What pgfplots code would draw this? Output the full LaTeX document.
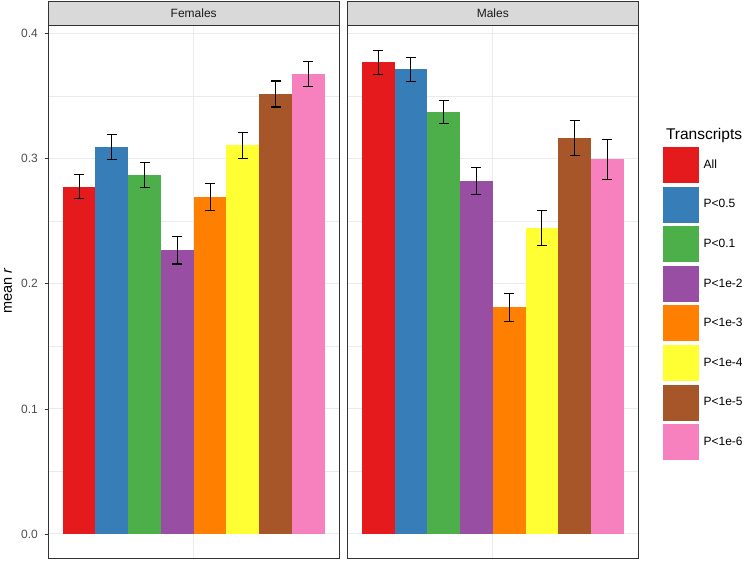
\documentclass[border=0pt]{standalone}
\usepackage{pgfplots}
\pgfplotsset{compat=1.18}
\usepackage{fontspec}
\setmainfont{Liberation Sans}
\definecolor{cA}{HTML}{E41A1C}
\definecolor{cB}{HTML}{377EB8}
\definecolor{cC}{HTML}{4DAF4A}
\definecolor{cD}{HTML}{984EA3}
\definecolor{cE}{HTML}{FF7F00}
\definecolor{cF}{HTML}{FFFF33}
\definecolor{cG}{HTML}{A65628}
\definecolor{cH}{HTML}{F781BF}
\definecolor{grid92}{HTML}{EBEBEB}
\definecolor{g20}{HTML}{333333}
\definecolor{g30}{HTML}{4D4D4D}
\definecolor{g85}{HTML}{D9D9D9}
\definecolor{g10}{HTML}{1A1A1A}
\pgfplotsset{
  panel/.style={
    scale only axis, width=291pt, height=532.3pt,
    xmin=0.0573, xmax=8.9427,
    ymin=-0.019185, ymax=0.40631,
    clip=false,
    axis line style={g20, line width=0.6pt},
    xtick={4.5}, xticklabels={}, major x tick style={draw=none},
    xmajorgrids, ymajorgrids, yminorgrids,
    ytick={0,0.1,0.2,0.3,0.4},
    minor ytick={0.05,0.15,0.25,0.35},
    major grid style={grid92, line width=1pt},
    minor grid style={grid92, line width=0.5pt},
    tick align=outside, ytick pos=left, xtick pos=bottom,
    major tick length=3.7pt, minor tick length=0pt,
    major y tick style={g20, line width=0.6pt},
    yticklabel style={font=\fontsize{12}{14}\selectfont, text=g30, inner sep=0pt, xshift=-6.5pt},
    /pgf/number format/.cd, fixed, fixed zerofill, precision=1, assume math mode=true, /pgfplots/.cd,
    error bars/y dir=both, error bars/y explicit,
    error bars/error bar style={black, line width=1.1pt},
    error bars/error mark options={rotate=90, black, mark size=5pt, line width=1.1pt},
  },
  bar/.style={ybar, bar width=1, bar shift=0pt, draw=none, fill=#1,
    legend image code/.code={\path[##1, draw=white, line width=0.6pt] (0pt,-18.5pt) rectangle (37pt,18.5pt);}},
}
\begin{document}
\begin{tikzpicture}[x=1pt,y=1pt]
\useasboundingbox (0,0) rectangle (749,561);
\begin{axis}[panel, name=f, at={(48.2pt,3pt)}, anchor=south west,
  ylabel={mean \textit{r}},
  every axis y label/.style={at={(axis description cs:-0.1244,0.5020)}, rotate=90, anchor=base, inner sep=0pt, font=\fontsize{14.5}{17}\selectfont}]
\addplot[bar=cA] coordinates {(1,0.2776) +- (0,0.0096)};
\addplot[bar=cB] coordinates {(2,0.3094) +- (0,0.0102)};
\addplot[bar=cC] coordinates {(3,0.2870) +- (0,0.0100)};
\addplot[bar=cD] coordinates {(4,0.2268) +- (0,0.0110)};
\addplot[bar=cE] coordinates {(5,0.2694) +- (0,0.0105)};
\addplot[bar=cF] coordinates {(6,0.3107) +- (0,0.0105)};
\addplot[bar=cG] coordinates {(7,0.3517) +- (0,0.0104)};
\addplot[bar=cH] coordinates {(8,0.3677) +- (0,0.0101)};
\draw[g20, fill=g85, line width=0.6pt] (rel axis cs:0,1) rectangle ([yshift=24pt]rel axis cs:1,1);
\node[font=\fontsize{12}{14}\selectfont, text=g10] at ([yshift=12pt]rel axis cs:0.5,1) {Females};
\end{axis}
\begin{axis}[panel, name=m, at={(347.3pt,3pt)}, anchor=south west,
  yticklabels={}, major y tick style={draw=none},
  legend style={at={(axis description cs:1.0815,0.7740)}, anchor=north west, draw=none, fill=none,
    inner sep=0pt, outer sep=0pt, row sep=2pt, font=\fontsize{12}{14}\selectfont,
    /tikz/every odd column/.style={column sep=2pt}},
  legend cell align=left]
\addplot[bar=cA] coordinates {(1,0.3770) +- (0,0.0095)};
\addplot[bar=cB] coordinates {(2,0.3714) +- (0,0.0095)};
\addplot[bar=cC] coordinates {(3,0.3373) +- (0,0.0092)};
\addplot[bar=cD] coordinates {(4,0.2819) +- (0,0.0107)};
\addplot[bar=cE] coordinates {(5,0.1812) +- (0,0.0111)};
\addplot[bar=cF] coordinates {(6,0.2446) +- (0,0.0137)};
\addplot[bar=cG] coordinates {(7,0.3163) +- (0,0.0140)};
\addplot[bar=cH] coordinates {(8,0.2995) +- (0,0.0158)};
\legend{All,P<0.5,P<0.1,P<1e-2,P<1e-3,P<1e-4,P<1e-5,P<1e-6}
\draw[g20, fill=g85, line width=0.6pt] (rel axis cs:0,1) rectangle ([yshift=24pt]rel axis cs:1,1);
\node[font=\fontsize{12}{14}\selectfont, text=g10] at ([yshift=12pt]rel axis cs:0.5,1) {Males};
\end{axis}
\node[anchor=base west, font=\fontsize{15.5}{18}\selectfont] at (662.5,421) {Transcripts};
\end{tikzpicture}
\end{document}
